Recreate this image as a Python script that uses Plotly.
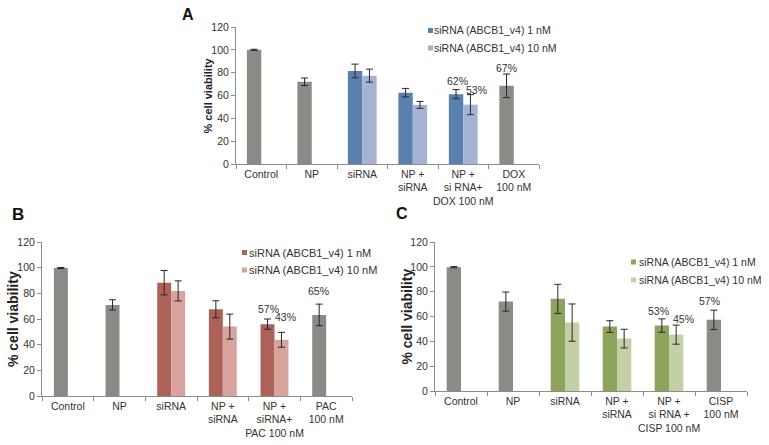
import plotly.graph_objects as go

# ---------------- data ----------------
cats_A = ["Control", "NP", "siRNA", "NP +<br>siRNA", "NP +<br>si RNA+<br>DOX 100 nM", "DOX<br>100 nM"]
a_1nM = [100, 72, 81.5, 62.5, 61.2, 68.5]
a_1nM_err = [0.5, 3.3, 6.0, 3.7, 4.0, 10.3]
a_10nM = [None, None, 77.4, 51.8, 52.0, None]
a_10nM_err = [0, 0, 5.7, 3.0, 8.8, 0]
a_plain = [True, True, False, False, False, True]
a_pct_1nM = [None, None, None, None, "62%", "67%"]
a_pct_10nM = [None, None, None, None, "53%", None]

cats_B = ["Control", "NP", "siRNA", "NP +<br>siRNA", "NP +<br>siRNA+<br>PAC 100 nM", "PAC<br>100 nM"]
b_1nM = [99.7, 71, 88.3, 67.6, 56.0, 63.2]
b_1nM_err = [0.4, 4.0, 9.5, 6.6, 4.0, 8.4]
b_10nM = [None, None, 81.9, 54.1, 43.8, None]
b_10nM_err = [0, 0, 7.8, 9.7, 5.8, 0]
b_plain = [True, True, False, False, False, True]
b_pct_1nM = [None, None, None, None, "57%", "65%"]
b_pct_10nM = [None, None, None, None, "43%", None]

cats_C = ["Control", "NP", "siRNA", "NP +<br>siRNA", "NP +<br>si RNA +<br>CISP 100 nM", "CISP<br>100 nM"]
c_1nM = [99.7, 72, 74.2, 51.9, 52.7, 57.3]
c_1nM_err = [0.5, 7.7, 11.7, 4.7, 5.4, 7.8]
c_10nM = [None, None, 55.1, 42.2, 45.4, None]
c_10nM_err = [0, 0, 15.0, 7.5, 7.7, 0]
c_plain = [True, True, False, False, False, True]
c_pct_1nM = [None, None, None, None, "53%", "57%"]
c_pct_10nM = [None, None, None, None, "45%", None]

series_names = ["siRNA (ABCB1_v4) 1 nM", "siRNA (ABCB1_v4) 10 nM"]
y_ticks = [0, 20, 40, 60, 80, 100, 120]

# ---------------- style / layout ----------------
W, H = 769, 445
FONT = "Liberation Sans, Arial, sans-serif"
TXT = "#333333"
AXC = "#8c8c8c"
GRAY = "#8a8a86"


def px(x):
    return x / W


def py(y):
    return 1 - y / H


panels = [
    dict(letter="A", ax="", cats=cats_A, v1=a_1nM, e1=a_1nM_err, v2=a_10nM, e2=a_10nM_err,
         plain=a_plain, p1=a_pct_1nM, p2=a_pct_10nM, c1="#5a80ad", c2="#a4b2d4",
         box=(236, 539, 27, 164), gap=0.43,
         pct_dx1=[0, 0, 0, 0, 1, 0], pct_dy1=[0, 0, 0, 0, 9, 6],
         pct_dx2=[0, 0, 0, 0, 6, 0], pct_dy2=[0, 0, 0, 0, 5, 0],
         letter_pos=(188, 15, 16), title_pos=(207, 11), leg=(428, 432, 30.5, 48, 10.5)),
    dict(letter="B", ax="2", cats=cats_B, v1=b_1nM, e1=b_1nM_err, v2=b_10nM, e2=b_10nM_err,
         plain=b_plain, p1=b_pct_1nM, p2=b_pct_10nM, c1="#ad6259", c2="#d8a29d",
         box=(42, 352, 242, 396), gap=0.46,
         pct_dx1=[0, 0, 0, 0, 1, -1], pct_dy1=[0, 0, 0, 0, 10, 13],
         pct_dx2=[0, 0, 0, 0, 4, 0], pct_dy2=[0, 0, 0, 0, 15, 0],
         letter_pos=(18, 214, 17), title_pos=(13, 14), leg=(242, 247, 252.5, 270, 11)),
    dict(letter="C", ax="3", cats=cats_C, v1=c_1nM, e1=c_1nM_err, v2=c_10nM, e2=c_10nM_err,
         plain=c_plain, p1=c_pct_1nM, p2=c_pct_10nM, c1="#8ea35d", c2="#c3d0a5",
         box=(435, 747, 242, 391), gap=0.45,
         pct_dx1=[0, 0, 0, 0, -3, -4], pct_dy1=[0, 0, 0, 0, 8, 9],
         pct_dx2=[0, 0, 0, 0, 7, 0], pct_dy2=[0, 0, 0, 0, 6, 0],
         letter_pos=(402, 213, 16), title_pos=(406, 14), leg=(631, 637, 262, 280, 10.5)),
]

fig = go.Figure()
annotations = []
shapes = []
layout = dict(template="none", width=W, height=H, margin=dict(l=0, r=0, t=0, b=0, pad=0),
              paper_bgcolor="white", plot_bgcolor="white", showlegend=False,
              barmode="overlay", font=dict(family=FONT, color=TXT, size=10.5))

for p in panels:
    xa = "x" + p["ax"]
    ya = "y" + p["ax"]
    x0, x1, y0, y1 = p["box"]
    w = (1 - p["gap"]) / 2
    err_style = dict(type="data", color="#262626", thickness=1, width=3.5, visible=True)
    colors1 = [GRAY if pl else p["c1"] for pl in p["plain"]]
    fig.add_trace(go.Bar(x=p["cats"], y=p["v1"], width=w, offset=-w,
                         marker=dict(color=colors1, line=dict(width=0)),
                         error_y=dict(array=p["e1"], **err_style),
                         xaxis=xa, yaxis=ya, name=series_names[0]))
    fig.add_trace(go.Bar(x=p["cats"], y=p["v2"], width=w, offset=0,
                         marker=dict(color=p["c2"], line=dict(width=0)),
                         error_y=dict(array=p["e2"], **err_style),
                         xaxis=xa, yaxis=ya, name=series_names[1]))

    layout["xaxis" + p["ax"]] = dict(
        domain=[px(x0), px(x1)], anchor=ya, type="category", range=[-0.5, 5.5],
        automargin=False,
        showline=True, linecolor=AXC, linewidth=1, ticks="outside", tickson="boundaries",
        ticklen=4, tickcolor=AXC, showgrid=False, zeroline=False, tickangle=0,
        tickfont=dict(family=FONT, size=10.5, color=TXT), fixedrange=True)
    layout["yaxis" + p["ax"]] = dict(
        domain=[py(y1), py(y0)], anchor=xa, range=[0, 120], tickvals=y_ticks,
        automargin=False,
        showline=True, linecolor=AXC, linewidth=1, ticks="outside", ticklen=4,
        tickcolor=AXC, showgrid=False, zeroline=False,
        tickfont=dict(family=FONT, size=10.5, color=TXT), fixedrange=True)

    slot = (x1 - x0) / 6
    wpx = slot * w
    for i, cat in enumerate(p["cats"]):
        if p["p1"][i]:
            annotations.append(dict(x=cat, y=p["v1"][i] + p["e1"][i], xref=xa, yref=ya,
                                    text=p["p1"][i], showarrow=False, yanchor="middle",
                                    xshift=-wpx / 2 + p["pct_dx1"][i], yshift=p["pct_dy1"][i],
                                    font=dict(family=FONT, size=10.5, color=TXT)))
        if p["p2"][i]:
            annotations.append(dict(x=cat, y=p["v2"][i] + p["e2"][i], xref=xa, yref=ya,
                                    text=p["p2"][i], showarrow=False, yanchor="middle",
                                    xshift=wpx / 2 + p["pct_dx2"][i], yshift=p["pct_dy2"][i],
                                    font=dict(family=FONT, size=10.5, color=TXT)))

    lx, ly, lsz = p["letter_pos"]
    annotations.append(dict(x=px(lx), y=py(ly), xref="paper", yref="paper", text="<b>" + p["letter"] + "</b>",
                            showarrow=False, xanchor="center", yanchor="middle",
                            font=dict(family=FONT, size=lsz, color="#111111")))
    tx, tsz = p["title_pos"]
    annotations.append(dict(x=px(tx), y=py((y0 + y1) / 2), xref="paper", yref="paper",
                            text="<b>% cell viability</b>", textangle=-90, showarrow=False,
                            xanchor="center", yanchor="middle",
                            font=dict(family=FONT, size=tsz, color="#222222")))

    mx, tx0, r1, r2, fsz = p["leg"]
    for row_y, name, col in [(r1, series_names[0], p["c1"]), (r2, series_names[1], p["c2"])]:
        shapes.append(dict(type="rect", xref="paper", yref="paper",
                           x0=px(mx), x1=px(mx + 5), y0=py(row_y + 2.5), y1=py(row_y - 2.5),
                           fillcolor=col, line=dict(width=0)))
        annotations.append(dict(x=px(tx0), y=py(row_y), xref="paper", yref="paper", text=name,
                                showarrow=False, xanchor="left", yanchor="middle",
                                font=dict(family=FONT, size=fsz, color=TXT)))

layout["annotations"] = annotations
layout["shapes"] = shapes
fig.update_layout(**layout)
fig.write_html("out.html", config={"displayModeBar": False},
               post_script="document.body.style.margin='0';document.body.style.padding='0';"
                           "document.body.style.overflow='hidden';")
